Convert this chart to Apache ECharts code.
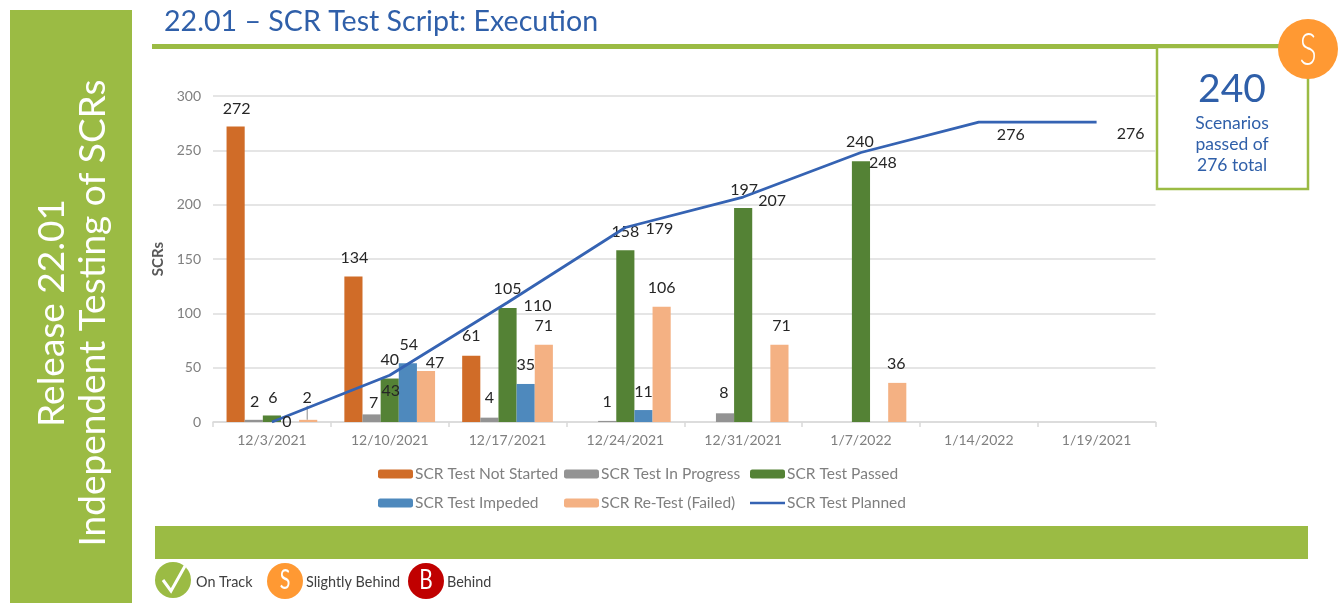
<!DOCTYPE html>
<html><head><meta charset="utf-8">
<script src="https://cdn.jsdelivr.net/npm/echarts@6/dist/echarts.min.js"></script>
<style>html,body{margin:0;padding:0;background:#fff}#c{width:1343px;height:603px}</style>
</head><body><div id="c"></div>
<script>
const categories = ['12/3/2021','12/10/2021','12/17/2021','12/24/2021','12/31/2021','1/7/2022','1/14/2022','1/19/2021'];
const notStarted = [272,134,61,null,null,null,null,null];
const inProgress = [2,7,4,1,8,null,null,null];
const passed = [6,40,105,158,197,240,null,null];
const impeded = [null,54,35,11,null,null,null,null];
const retest = [2,47,71,106,71,36,null,null];
const planned = [0,43,110,179,207,248,276,276];

// Hand-placed data label nudges [dx, dy] from the default "top" spot
const offNotStarted = [[1,-6],[1,-7],[0,-8]];
const offInProgress = [[1,-6],[2,0],[0,-8],[0,-7],[-1,-8]];
const offPassed = [[1,-6],[0,-7],[0,-7],[0,-6],[1,-6],[-1,-7]];
const offImpeded = [null,[1,-6],[0,-7],[0,-6]];
const offRetest = [[-1,-10],[9,4],[0,-7],[0,-7],[2,-7],[-1,-7]];
const offPlanned = [[15,12],[1,28],[30,15],[34,13],[29,16],[22,22],[32,25],[34,24]];

const GREEN='#9bbb44', BLUE='#2f5fa9', F='Lato', F2='Lato';
const BLACK='#262626';

function barSeries(name,data,color,offs){
  return {name,type:'bar',data:data.map((v,i)=>{
      const item={value:v};
      if(v!==null){item.label={show:true,position:'top',distance:4,offset:(offs[i]||[0,0])};}
      return item;
    }),
    barGap:0,barCategoryGap:'23%',itemStyle:{color},
    label:{show:false,color:BLACK,fontFamily:F,fontSize:16},
    z:2};
}
const series=[
  barSeries('SCR Test Not Started',notStarted,'#d06c28',offNotStarted),
  barSeries('SCR Test In Progress',inProgress,'#939393',offInProgress),
  barSeries('SCR Test Passed',passed,'#548235',offPassed),
  barSeries('SCR Test Impeded',impeded,'#4e89bd',offImpeded),
  barSeries('SCR Re-Test (Failed)',retest,'#f4b183',[]),
  {name:'SCR Test Planned',type:'line',data:planned.map((v,i)=>({value:v,label:{show:true,position:'top',distance:4,offset:offPlanned[i]}})),
   symbol:'circle',symbolSize:0,showSymbol:true,lineStyle:{color:'#3563b3',width:2.8},itemStyle:{color:'#3563b3'},
   label:{show:true,color:BLACK,fontFamily:F,fontSize:16},z:5}
];
// re-test labels are moved through labelLayout so the first can carry a leader line
series[4].labelLayout=p=>{const o=offRetest[p.dataIndex]||[0,0];return {dx:o[0],dy:o[1]};};
series[4].labelLine={show:false};
series[4].data[0].labelLine={show:true,lineStyle:{color:'#8c8c8c',width:1}};

const lineIcon='path://M0,0L0,0M0,35L100,35L100,65L0,65ZM100,100L100,100';
const legendBase={orient:'vertical',top:466,itemWidth:35,itemHeight:9,itemGap:13,
  textStyle:{color:'#7f7f7f',fontFamily:F2,fontSize:15.5,padding:[0,0,0,-3]},selectedMode:false,padding:0};

const graphic=[
  {type:'rect',shape:{x:10,y:10,width:122,height:593},style:{fill:GREEN},silent:true},
  {type:'text',x:52,y:313,rotation:Math.PI/2,style:{text:'Release 22.01',fill:'#fff',font:'37px '+F2,textAlign:'center',textVerticalAlign:'middle'}},
  {type:'text',x:93,y:313,rotation:Math.PI/2,style:{text:'Independent Testing of SCRs',fill:'#fff',font:'37px '+F2,textAlign:'center',textVerticalAlign:'middle'}},
  {type:'text',x:164,y:22,style:{text:'22.01 – SCR Test Script: Execution',fill:BLUE,font:'28.6px '+F2,textAlign:'left',textVerticalAlign:'middle'}},
  {type:'rect',shape:{x:152,y:44,width:1135,height:5},style:{fill:GREEN}},
  {type:'rect',shape:{x:1157,y:47,width:151,height:142},style:{fill:'#fff',stroke:GREEN,lineWidth:2.5}},
  {type:'circle',shape:{cx:1308,cy:49,r:30},style:{fill:'#ff9933'},z:10},
  {type:'text',x:1308,y:50,scaleX:0.7,z:11,style:{text:'S',fill:'#fff',font:'300 46px '+F2,textAlign:'center',textVerticalAlign:'middle'}},
  {type:'text',x:1232,y:89,style:{text:'240',fill:BLUE,font:'39px '+F2,textAlign:'center',textVerticalAlign:'middle'}},
  {type:'text',x:1232,y:123,style:{text:'Scenarios',fill:BLUE,font:'17.5px '+F2,textAlign:'center',textVerticalAlign:'middle'}},
  {type:'text',x:1232,y:144,style:{text:'passed of',fill:BLUE,font:'17.5px '+F2,textAlign:'center',textVerticalAlign:'middle'}},
  {type:'text',x:1232,y:165,style:{text:'276 total',fill:BLUE,font:'17.5px '+F2,textAlign:'center',textVerticalAlign:'middle'}},
  {type:'rect',shape:{x:155,y:526,width:1153,height:33},style:{fill:GREEN}},
  {type:'circle',shape:{cx:173,cy:580,r:18},style:{fill:GREEN}},
  {type:'polyline',shape:{points:[[163,580],[171,591],[185,566]]},style:{stroke:'#fff',lineWidth:3,fill:null}},
  {type:'text',x:196,y:582,style:{text:'On Track',fill:'#404040',font:'14.4px '+F2,textAlign:'left',textVerticalAlign:'middle'}},
  {type:'circle',shape:{cx:285,cy:581,r:18},style:{fill:'#ff9933'}},
  {type:'text',x:285,y:581,scaleX:0.75,style:{text:'S',fill:'#fff',font:'26px '+F2,textAlign:'center',textVerticalAlign:'middle'}},
  {type:'text',x:306,y:582,style:{text:'Slightly Behind',fill:'#404040',font:'14.4px '+F2,textAlign:'left',textVerticalAlign:'middle'}},
  {type:'circle',shape:{cx:426,cy:581,r:18},style:{fill:'#c00000'}},
  {type:'text',x:426,y:581,scaleX:0.8,style:{text:'B',fill:'#fff',font:'26px '+F2,textAlign:'center',textVerticalAlign:'middle'}},
  {type:'text',x:447,y:582,style:{text:'Behind',fill:'#404040',font:'14.4px '+F2,textAlign:'left',textVerticalAlign:'middle'}}
];

const chart=echarts.init(document.getElementById('c'),null,{renderer:'canvas'});
chart.setOption({
  backgroundColor:'#fff',
  animation:false,
  grid:{left:213,right:187.5,top:96,bottom:181,containLabel:false},
  legend:[
    Object.assign({},legendBase,{left:378,data:['SCR Test Not Started','SCR Test Impeded']}),
    Object.assign({},legendBase,{left:564,data:['SCR Test In Progress','SCR Re-Test (Failed)']}),
    Object.assign({},legendBase,{left:750,symbolKeepAspect:false,data:['SCR Test Passed',{name:'SCR Test Planned',icon:lineIcon}]})
  ],
  xAxis:{type:'category',data:categories,
    axisLine:{lineStyle:{color:'#d9d9d9',width:1.5}},
    axisTick:{show:true,length:5,alignWithLabel:false,lineStyle:{color:'#d9d9d9',width:1.5}},
    axisLabel:{color:'#7f7f7f',fontFamily:F2,fontSize:14,margin:11,interval:0}},
  yAxis:{type:'value',min:0,max:300,interval:50,name:'SCRs',nameLocation:'middle',nameGap:47,nameRotate:90,
    nameTextStyle:{color:'#595959',fontFamily:F2,fontSize:15,fontWeight:'bold'},
    axisLine:{show:false},axisTick:{show:false},
    splitLine:{lineStyle:{color:'#dcdcdc',width:1.5}},
    axisLabel:{color:'#7f7f7f',fontFamily:F2,fontSize:14,margin:12}},
  series,
  graphic
});
</script></body></html>
